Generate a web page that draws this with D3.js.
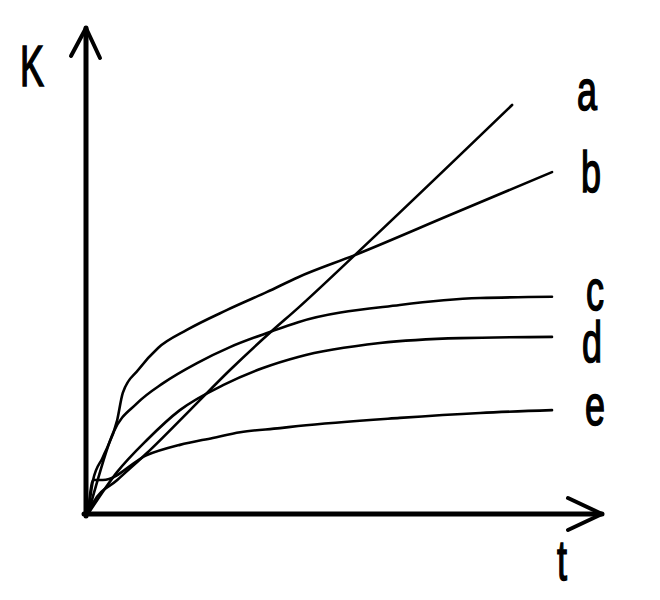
<!DOCTYPE html>
<html>
<head>
<meta charset="utf-8">
<script src="https://cdn.jsdelivr.net/npm/d3@7"></script>
<style>
  body { margin: 0; background: #fff; }
</style>
</head>
<body>
<div id="chart"></div>
<script>
// K over t, five curves (arbitrary units)
const seriesNames = ['a', 'b', 'c', 'd', 'e'];

const aT = [0, 0.11, 0.63, 1.27, 2.2, 3.06, 3.92, 4.53, 5.75, 9.14];
const aK = [0, 0.27, 0.83, 1.49, 2.54, 3.52, 4.43, 5.04, 6.33, 10];

const bT = [0, 0.11, 0.32, 0.63, 0.75, 1.08, 1.51, 2.13, 3.0, 3.86, 4.53, 5.75, 7.8, 10];
const bK = [0, 0.83, 1.39, 2.30, 2.96, 3.52, 4.06, 4.50, 4.99, 5.43, 5.79, 6.33, 7.31, 8.36];

const cT = [0, 0.1, 0.54, 1.06, 1.62, 2.35, 3.06, 3.92, 4.53, 6.72, 8.45, 10];
const cK = [0, 0.4, 1.98, 2.71, 3.20, 3.69, 4.08, 4.45, 4.69, 5.11, 5.28, 5.31];

const dT = [0, 0.63, 1.27, 1.98, 2.91, 3.77, 4.53, 6.29, 8.02, 10];
const dK = [0, 1.03, 1.81, 2.54, 3.15, 3.57, 3.84, 4.18, 4.30, 4.33];

const eT = [0, 0.11, 0.32, 1.27, 1.98, 2.69, 3.28, 4.14, 4.53, 6.72, 8.45, 10];
const eK = [0, 0.83, 0.83, 1.44, 1.69, 1.86, 2.00, 2.10, 2.15, 2.35, 2.47, 2.54];

const axisLabels = { x: 't', y: 'K' };

const width = 660, height = 600;

const x = d3.scaleLinear().domain([0, 10]).range([88, 552]);
const y = d3.scaleLinear().domain([0, 10]).range([514, 105]);

const series = [
    { name: 'a', t: aT, k: aK, lx: 577, ly: 110 },
    { name: 'b', t: bT, k: bK, lx: 581, ly: 192 },
    { name: 'c', t: cT, k: cK, lx: 586, ly: 310 },
    { name: 'd', t: dT, k: dK, lx: 582, ly: 362 },
    { name: 'e', t: eT, k: eK, lx: 585, ly: 425 },
];

const svg = d3.select('#chart').append('svg')
    .attr('width', width)
    .attr('height', height)
    .style('background', '#fff');

const line = d3.line()
    .x(d => x(d[0]))
    .y(d => y(d[1]))
    .curve(d3.curveMonotoneX);

// curves
svg.append('g')
    .attr('fill', 'none')
    .attr('stroke', '#000')
    .attr('stroke-width', 2.6)
    .attr('stroke-linejoin', 'round')
    .attr('stroke-linecap', 'round')
    .selectAll('path')
    .data(series)
    .join('path')
    .attr('d', s => line(d3.zip(s.t, s.k)));

// axes with arrow heads
const x0 = x(0) - 2, y0 = y(0);
const axes = svg.append('g')
    .attr('fill', 'none')
    .attr('stroke', '#000')
    .attr('stroke-width', 5)
    .attr('stroke-linecap', 'round')
    .attr('stroke-linejoin', 'round');

axes.append('line').attr('x1', x0).attr('y1', y0 + 2).attr('x2', x0).attr('y2', 28);
axes.append('line').attr('x1', x0 - 2).attr('y1', y0).attr('x2', 602).attr('y2', y0);

axes.append('path')
    .attr('stroke-width', 4)
    .attr('d', `M${x0 - 15},${56} L${x0},${28} L${x0 + 14},${58}`);
axes.append('path')
    .attr('stroke-width', 4)
    .attr('d', `M568,${y0 - 16} L602,${y0} L568,${y0 + 16}`);

// text: font is a narrow, heavy sans, so squeeze Arial-like glyphs and thicken them
function label(txt, px, py) {
    svg.append('text')
        .attr('transform', `translate(${px},${py}) scale(0.62,1)`)
        .attr('font-family', '"Liberation Sans", Arial, sans-serif')
        .attr('font-size', 58)
        .attr('fill', '#000')
        .attr('stroke', '#000')
        .attr('stroke-width', 1.6)
        .text(txt);
}

series.forEach(s => label(s.name, s.lx, s.ly));
label(axisLabels.y, 20, 86);
label(axisLabels.x, 557, 580);
</script>
</body>
</html>
